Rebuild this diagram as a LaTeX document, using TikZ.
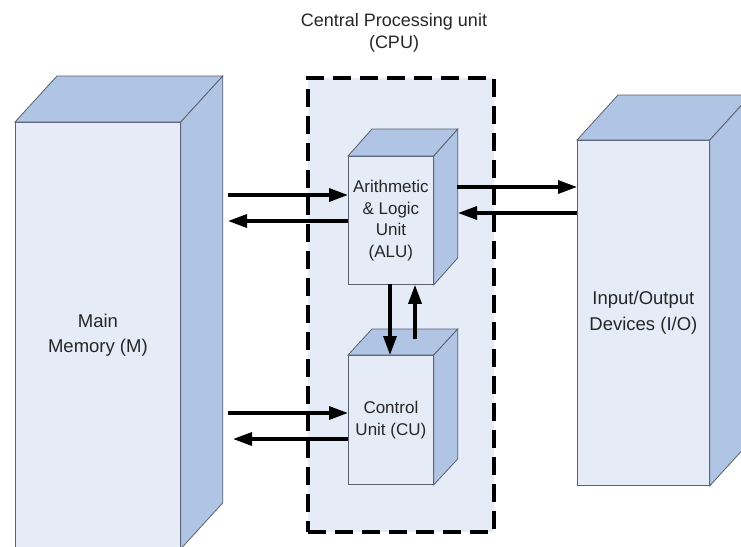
\documentclass[tikz,border=0pt]{standalone}
\usepackage{fontspec}
\setmainfont{Liberation Sans}
\usetikzlibrary{arrows.meta, calc, positioning}

\definecolor{facelight}{HTML}{E6ECF7}
\definecolor{facedark}{HTML}{B0C4E4}
\definecolor{edgegray}{HTML}{5B6170}

% top and side faces of a unit drawn as a block
\newcommand{\unitfaces}[3]{%
  \filldraw[fill=facedark, draw=edgegray, line width=0.8pt] (#1.north west) -- ++(#2,-#3) -- ($(#1.north east)+(#2,-#3)$) -- (#1.north east) -- cycle;
  \filldraw[fill=facedark, draw=edgegray, line width=0.8pt] (#1.north east) -- ++(#2,-#3) -- ($(#1.south east)+(#2,-#3)$) -- (#1.south east) -- cycle;
}

\begin{document}
\begin{tikzpicture}[x=1pt, y=-1pt, >={Triangle[length=19pt, width=13pt]},
  front/.style={draw=edgegray, fill=facelight, line width=0.8pt, inner sep=0pt,
    anchor=north west, align=center, text=black!85},
  bigtext/.style={font=\fontsize{18.5}{25.5}\selectfont},
  smalltext/.style={font=\fontsize{17}{21.5}\selectfont},
  cpubox/.style={draw, fill=facelight, line width=3.8pt, dash pattern=on 18pt off 9pt,
    inner sep=0pt, anchor=north west},
  arr/.style={->, line width=3.3pt}]

\useasboundingbox (0,0) rectangle (741,546);

% CPU frame
\node[cpubox, minimum width=186pt, minimum height=454pt] (cpu) at (306,76) {};
\node[font=\fontsize{18}{21.5}\selectfont, align=center, text=black!85] (title) at (394,33)
  {Central Processing unit\\(CPU)};

% main memory
\node[front, bigtext, minimum width=165pt, minimum height=426pt] (mem) at (15,122) {Main\\Memory (M)};
\unitfaces{mem}{42}{46}

% input / output
\node[front, bigtext, minimum width=132pt, minimum height=345pt] (io) at (577,140) {Input/Output\\Devices (I/O)};
\unitfaces{io}{41}{45}

% ALU and control unit
\node[front, smalltext, minimum width=85pt, minimum height=128pt] (alu) at (348,156) {Arithmetic\\\& Logic\\Unit\\(ALU)};
\unitfaces{alu}{24}{27}
\node[front, smalltext, minimum width=85pt, minimum height=129pt] (cu) at (348,355) {Control\\Unit (CU)};
\unitfaces{cu}{24}{26}

% memory <-> ALU
\coordinate (m1) at (228,195);
\coordinate (m2) at (228,221);
\draw[arr] (m1) -- (m1 -| alu.west);
\draw[arr] (m2 -| alu.west) -- (m2);

% ALU <-> I/O
\coordinate (r1) at (457,187);
\coordinate (r2) at (458,213);
\draw[arr] (r1) -- (r1 -| io.west);
\draw[arr] (r2 -| io.west) -- (r2);

% ALU <-> CU
\coordinate (v1) at (390,284);
\coordinate (v2) at (415,339);
\draw[arr] (v1) -- (v1 |- cu.north);
\draw[arr] (v2) -- (v2 |- alu.south);

% memory <-> CU
\coordinate (c1) at (228,413);
\coordinate (c2) at (233,439);
\draw[arr] (c1) -- (c1 -| cu.west);
\draw[arr] (c2 -| cu.west) -- (c2);

\end{tikzpicture}
\end{document}
